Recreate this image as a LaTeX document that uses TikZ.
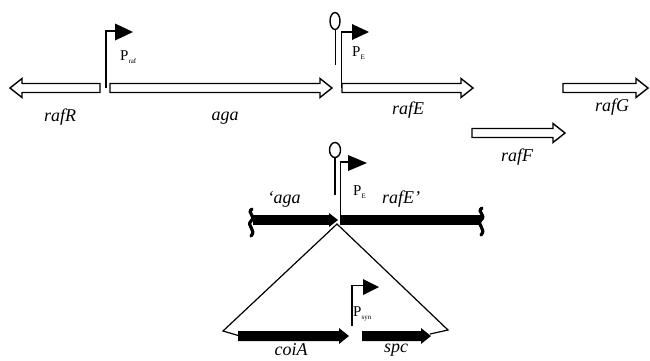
\documentclass[tikz,border=0pt]{standalone}
\usepackage{fontspec}
\setmainfont{Liberation Serif}
\newcommand\psub[1]{\raisebox{-2.5pt}{\fontsize{7}{8}\selectfont #1}}
\newcommand\geneRight[3]{% x1 x2 y
  \draw[opengene] (#1,#3-4.5) -- (#2-12,#3-4.5) -- (#2-12,#3-9.5) -- (#2,#3) -- (#2-12,#3+9.5) -- (#2-12,#3+4.5) -- (#1,#3+4.5) -- cycle;}
\newcommand\solidRight[3]{% x1 x2 y
  \fill (#1,#3-5) -- (#2-10,#3-5) -- (#2-10,#3-8) -- (#2,#3) -- (#2-10,#3+8) -- (#2-10,#3+5) -- (#1,#3+5) -- cycle;}
\begin{document}
\begin{tikzpicture}[x=1pt,y=-1pt,
  opengene/.style={draw=black, line width=1.4pt, fill=white, line join=miter},
  prom/.style={line width=1.5pt},
  term/.style={line width=1.4pt},
  link/.style={line width=1.2pt},
  wavy/.style={line width=3.2pt, line cap=round},
  lab/.style={font=\fontsize{18}{20}\selectfont\itshape, inner sep=0pt},
  plab/.style={font=\fontsize{15}{17}\selectfont, inner sep=0pt}]
\useasboundingbox (0,0) rectangle (650,360);

% ---------- top row ----------
% rafR (leftward)
\draw[opengene] (100,83.5) -- (22,83.5) -- (22,78.5) -- (10,88) -- (22,97.5) -- (22,92.5) -- (100,92.5) -- cycle;
\geneRight{110}{332}{88}
\geneRight{342}{473}{88}
\geneRight{563}{648}{88}
\geneRight{472}{565}{133}

% P_raf promoter
\draw[prom] (106,88) -- (106,31) -- (116,31);
\fill (115,23.5) -- (133,32) -- (115,40.5) -- cycle;
\node[plab, anchor=west] (praf) at (120,57) {P\psub{raf}};

% terminator + P_E top
\draw[term] (335,21) ellipse [x radius=5, y radius=8.5];
\draw[term] (335.5,29.5) -- (335.5,65);
\draw[prom] (341.5,88) -- (341.5,32) -- (353,32);
\fill (352,24) -- (369,32) -- (352,40) -- cycle;
\node[plab, anchor=west] (pe1) at (352,53) {P\psub{E}};

% top labels
\node[lab] (lrafR) at (60,117) {rafR};
\node[lab] (laga) at (225,118) {aga};
\node[lab] (lrafE) at (408,110) {rafE};
\node[lab] (lrafG) at (612,107) {rafG};
\node[lab] (lrafF) at (517,157) {rafF};

% ---------- middle construct ----------
\fill (253,215) rectangle (331,225);
\fill (329,213) -- (338,220) -- (329,227) -- cycle;
\fill (340,215) rectangle (481,225);
\draw[wavy] (252,209) .. controls (246,213) and (257,216) .. (251,221) .. controls (246,226) and (257,230) .. (251,236);
\draw[wavy] (482,208) .. controls (476,212) and (487,215) .. (481,220) .. controls (476,225) and (487,229) .. (481,235);

\draw[term] (335,150) ellipse [x radius=5.5, y radius=7.5];
\draw[term] (335,157.5) -- (335,195);
\draw[prom] (340.5,222) -- (340.5,162) -- (349,162);
\fill (348,155) -- (367,163) -- (348,171) -- cycle;
\node[plab, anchor=west] (pe2) at (353,192) {P\psub{E}};

\node[lab] (laga2) at (284,199) {‘aga};
\node[lab] (lrafE2) at (401,199) {rafE’};

% ---------- insert ----------
\coordinate (apex) at (337,224);
\coordinate (insL) at (223,331);
\coordinate (insR) at (448,330);
\coordinate (coiL) at (240,336);
\coordinate (spcR) at (430,334);
\draw[link, line join=miter] (coiL) -- (insL) -- (apex) -- (insR) -- (spcR);

\solidRight{238}{349}{336}
\solidRight{362}{431}{336}

\draw[prom] (352,326) -- (352,285.5) -- (364,285.5);
\fill (363,279) -- (379,287) -- (363,295) -- cycle;
\node[plab, anchor=west] (psyn) at (353,314) {P\psub{syn}};

\node[lab] (lcoiA) at (291,350) {coiA};
\node[lab] (lspc) at (396,350) {spc};
\end{tikzpicture}
\end{document}
